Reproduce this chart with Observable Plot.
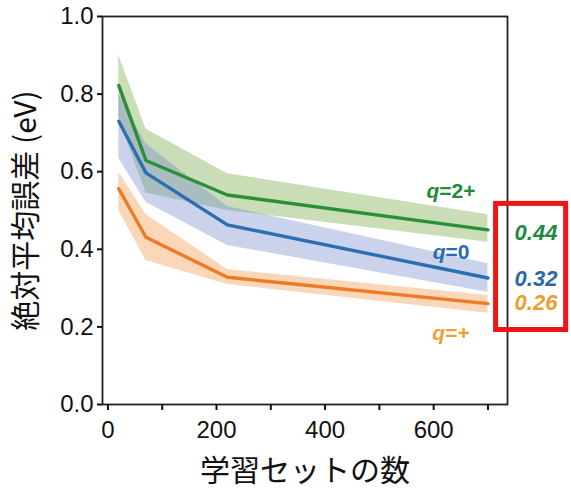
<!DOCTYPE html>
<html>
<head>
<meta charset="utf-8">
<script src="https://cdn.jsdelivr.net/npm/d3@7"></script>
<script src="https://cdn.jsdelivr.net/npm/@observablehq/plot@0.6"></script>
<style>
  html, body { margin: 0; padding: 0; background: #fff; }
  #chart svg { display: block; }
</style>
</head>
<body>
<div id="chart"></div>
<script>
// ---- data ----
const trainSizes = [20, 70, 220, 700];

const greenMean = [0.822, 0.629, 0.540, 0.450];
const greenLo   = [0.740, 0.545, 0.500, 0.418];
const greenHi   = [0.900, 0.710, 0.595, 0.489];

const blueMean  = [0.730, 0.597, 0.463, 0.326];
const blueLo    = [0.634, 0.521, 0.410, 0.289];
const blueHi    = [0.800, 0.672, 0.510, 0.363];

const orangeMean = [0.556, 0.431, 0.328, 0.260];
const orangeLo   = [0.500, 0.371, 0.309, 0.235];
const orangeHi   = [0.599, 0.490, 0.348, 0.281];

const seriesNames = ["q=2+", "q=0", "q=+"];
const labelX = [632, 632, 632];
const labelY = [0.549, 0.392, 0.183];

const finalValues = [0.44, 0.32, 0.26];
const finalText = ["0.44", "0.32", "0.26"];

const xTicks = [0, 100, 200, 300, 400, 500, 600, 700];
const yTicks = [0, 0.2, 0.4, 0.6, 0.8, 1.0];

const lineColors = ["#2a9038", "#2b6fb0", "#ee7a24"];
const bandColors = ["#79a94a", "#7a8fd0", "#f39a50"];
const labelColors = ["#1f8a3a", "#2a6cb3", "#f0a030"];
const valueColors = ["#218a3e", "#2c68a8", "#e8a030"];

// ---- build tables ----
const means = [greenMean, blueMean, orangeMean];
const los = [greenLo, blueLo, orangeLo];
const his = [greenHi, blueHi, orangeHi];
const rows = [];
seriesNames.forEach((s, i) => trainSizes.forEach((x, j) =>
  rows.push({series: s, idx: i, x, mean: means[i][j], lo: los[i][j], hi: his[i][j]})));
const labels = seriesNames.map((s, i) => ({text: s, x: labelX[i], y: labelY[i], idx: i}));
const finals = finalValues.map((v, i) => ({v, text: finalText[i], idx: i, x: trainSizes[trainSizes.length - 1]}));
const box = [{x1: 715, x2: 844, y1: d3.min(finalValues) - 0.068, y2: d3.max(finalValues) + 0.077}];

const numFont = "'Liberation Sans', Arial, Helvetica, sans-serif";
const jpFont = "'Noto Sans CJK JP', 'Noto Sans', sans-serif";

const marks = [];
[0, 1, 2].forEach(i => {
  marks.push(Plot.areaY(rows.filter(r => r.idx === i), {
    x: "x", y1: "lo", y2: "hi", fill: bandColors[i], fillOpacity: 0.4
  }));
});
[0, 1, 2].forEach(i => {
  marks.push(Plot.lineY(rows.filter(r => r.idx === i), {
    x: "x", y: "mean", stroke: lineColors[i], strokeWidth: 3.4
  }));
});
marks.push(Plot.frame({stroke: "#222", strokeWidth: 1.8}));
marks.push(Plot.axisY({ticks: yTicks, tickFormat: d3.format(".1f"), tickSize: 5, tickPadding: 4,
  fontSize: 24, label: null, strokeWidth: 2, fontFamily: numFont}));
marks.push(Plot.axisX({ticks: xTicks, tickFormat: d => d % 200 === 0 ? String(d) : "", tickSize: 6, tickPadding: 10,
  fontSize: 24, label: null, strokeWidth: 2, fontFamily: numFont}));
marks.push(Plot.axisY({ticks: [], label: "絶対平均誤差 (eV)", labelAnchor: "center", labelArrow: "none",
  labelOffset: 88, fontSize: 30, fontFamily: jpFont}));
marks.push(Plot.axisX({ticks: [], label: "学習セットの数", labelAnchor: "center", labelArrow: "none",
  labelOffset: 76, fontSize: 30, fontFamily: jpFont}));
marks.push(Plot.text(labels, {x: "x", y: "y", text: "text", fill: d => labelColors[d.idx],
  fontSize: 21, fontWeight: "bold", fontFamily: numFont, className: "series-label"}));
marks.push(Plot.rect(box, {x1: "x1", x2: "x2", y1: "y1", y2: "y2", fill: "none", stroke: "#ee1515", strokeWidth: 5}));
marks.push(Plot.text(finals, {x: "x", y: "v", text: "text", dx: 48, dy: -1, fill: d => valueColors[d.idx],
  fontSize: 22, fontWeight: "bold", fontStyle: "italic", fontFamily: numFont}));

const chart = Plot.plot({
  width: 571,
  height: 489,
  marginLeft: 102,
  marginRight: 64,
  marginTop: 16,
  marginBottom: 85,
  x: {domain: [-10, 736]},
  y: {domain: [0, 1]},
  style: {background: "#fff", color: "#111", overflow: "visible"},
  marks
});

// italic "q" in the series labels
d3.select(chart).selectAll("g.series-label text, .series-label text").each(function () {
  const t = this.textContent;
  if (t.startsWith("q")) {
    const el = d3.select(this);
    el.text("");
    el.append("tspan").attr("font-style", "italic").text("q");
    el.append("tspan").text(t.slice(1));
  }
});

document.getElementById("chart").appendChild(chart);
</script>
</body>
</html>
